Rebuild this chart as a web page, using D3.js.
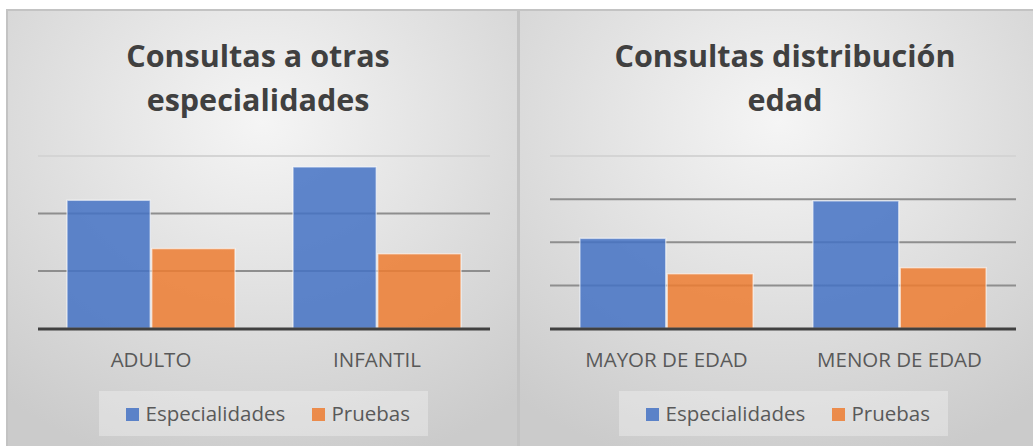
<!DOCTYPE html>
<html>
<head>
<meta charset="utf-8">
<script src="https://cdn.jsdelivr.net/npm/d3@7"></script>
<style>
  body { margin: 0; background: #fff; }
  text { font-family: "Open Sans", "Noto Sans", sans-serif; }
</style>
</head>
<body>
<svg id="chart" width="1033" height="446"></svg>
<script>
// data
var seriesNames = ["Especialidades", "Pruebas"];
var seriesColors = ["#4472C4", "#ED7D31"];

var otrasTitle = ["Consultas a otras", "especialidades"];
var otrasCats = ["ADULTO", "INFANTIL"];
var otrasEsp = [223, 281];
var otrasPru = [139, 130];
var otrasTicks = [100, 200, 300];

var edadTitle = ["Consultas distribución", "edad"];
var edadCats = ["MAYOR DE EDAD", "MENOR DE EDAD"];
var edadEsp = [209, 296];
var edadPru = [127, 141];
var edadTicks = [100, 200, 300, 400];

var svg = d3.select("#chart");

var defs = svg.append("defs");
var grad = defs.append("radialGradient")
    .attr("id", "bg")
    .attr("cx", "50%").attr("cy", "25%").attr("r", "80%");
grad.append("stop").attr("offset", "0%").attr("stop-color", "#f5f5f5");
grad.append("stop").attr("offset", "100%").attr("stop-color", "#cbcbcb");

function drawPanel(opt) {
    var g = svg.append("g");

    g.append("rect")
        .attr("x", opt.x).attr("y", 10)
        .attr("width", opt.w).attr("height", 446)
        .attr("fill", "url(#bg)")
        .attr("stroke", "#c3c3c3")
        .attr("stroke-width", 2);

    var top = 156, bottom = 328.5;
    var y = d3.scaleLinear()
        .domain([0, d3.max(opt.ticks)])
        .range([bottom, top]);

    var x0 = d3.scaleBand()
        .domain(opt.cats)
        .range([opt.px0, opt.px1]);

    var inner = x0.bandwidth() * 0.75;
    var x1 = d3.scaleBand()
        .domain(seriesNames)
        .range([0, inner]);

    // gridlines (top one is fainter)
    g.selectAll(".grid")
        .data(opt.ticks)
        .enter().append("line")
        .attr("x1", opt.px0).attr("x2", opt.px1)
        .attr("y1", function(d) { return y(d); })
        .attr("y2", function(d) { return y(d); })
        .attr("stroke", function(d, i) { return i === opt.ticks.length - 1 ? "#d4d4d4" : "#8e8e8e"; })
        .attr("stroke-width", 2);

    // bars
    var rows = opt.cats.map(function(c, i) {
        return { cat: c, values: [opt.esp[i], opt.pru[i]] };
    });

    var grp = g.selectAll(".cat")
        .data(rows)
        .enter().append("g")
        .attr("transform", function(d) {
            return "translate(" + (x0(d.cat) + (x0.bandwidth() - inner) / 2) + ",0)";
        });

    grp.selectAll("rect")
        .data(function(d) { return d.values; })
        .enter().append("rect")
        .attr("x", function(d, i) { return x1(seriesNames[i]) + 0.75; })
        .attr("width", x1.bandwidth() - 1.5)
        .attr("y", function(d) { return y(d); })
        .attr("height", function(d) { return bottom - y(d); })
        .attr("fill", function(d, i) { return seriesColors[i]; })
        .attr("fill-opacity", 0.85)
        .attr("stroke", "#ffffff")
        .attr("stroke-opacity", 0.55)
        .attr("stroke-width", 1.5);

    // baseline
    g.append("line")
        .attr("x1", opt.px0).attr("x2", opt.px1)
        .attr("y1", bottom + 0.5).attr("y2", bottom + 0.5)
        .attr("stroke", "#404040")
        .attr("stroke-width", 3);

    // category labels
    g.selectAll(".lbl")
        .data(opt.cats)
        .enter().append("text")
        .attr("x", function(d) { return x0(d) + x0.bandwidth() / 2; })
        .attr("y", 367)
        .attr("text-anchor", "middle")
        .attr("font-size", 20.5)
        .attr("fill", "#595959")
        .text(function(d) { return d; });

    // title
    g.selectAll(".title")
        .data(opt.title)
        .enter().append("text")
        .attr("x", opt.tx)
        .attr("y", function(d, i) { return 67 + i * 44; })
        .attr("text-anchor", "middle")
        .attr("font-size", 30.5)
        .attr("font-weight", "bold")
        .attr("fill", "#404040")
        .text(function(d) { return d; });

    // legend
    var lg = g.append("g");
    lg.append("rect")
        .attr("x", opt.lx).attr("y", 391)
        .attr("width", 329).attr("height", 45)
        .attr("fill", "#ffffff")
        .attr("fill-opacity", 0.3);

    var offs = [0, 186];
    seriesNames.forEach(function(s, i) {
        lg.append("rect")
            .attr("x", opt.lx + 27 + offs[i]).attr("y", 408)
            .attr("width", 13).attr("height", 13)
            .attr("fill", seriesColors[i])
            .attr("fill-opacity", 0.85);
        lg.append("text")
            .attr("x", opt.lx + 46.5 + offs[i])
            .attr("y", 421)
            .attr("font-size", 20.5)
            .attr("fill", "#595959")
            .text(s);
    });
}

drawPanel({ x: 7, w: 511, px0: 38, px1: 490, tx: 258,
    title: otrasTitle, cats: otrasCats, esp: otrasEsp, pru: otrasPru, ticks: otrasTicks, lx: 99 });
drawPanel({ x: 519, w: 520, px0: 550, px1: 1016, tx: 785,
    title: edadTitle, cats: edadCats, esp: edadEsp, pru: edadPru, ticks: edadTicks, lx: 619 });
</script>
</body>
</html>
